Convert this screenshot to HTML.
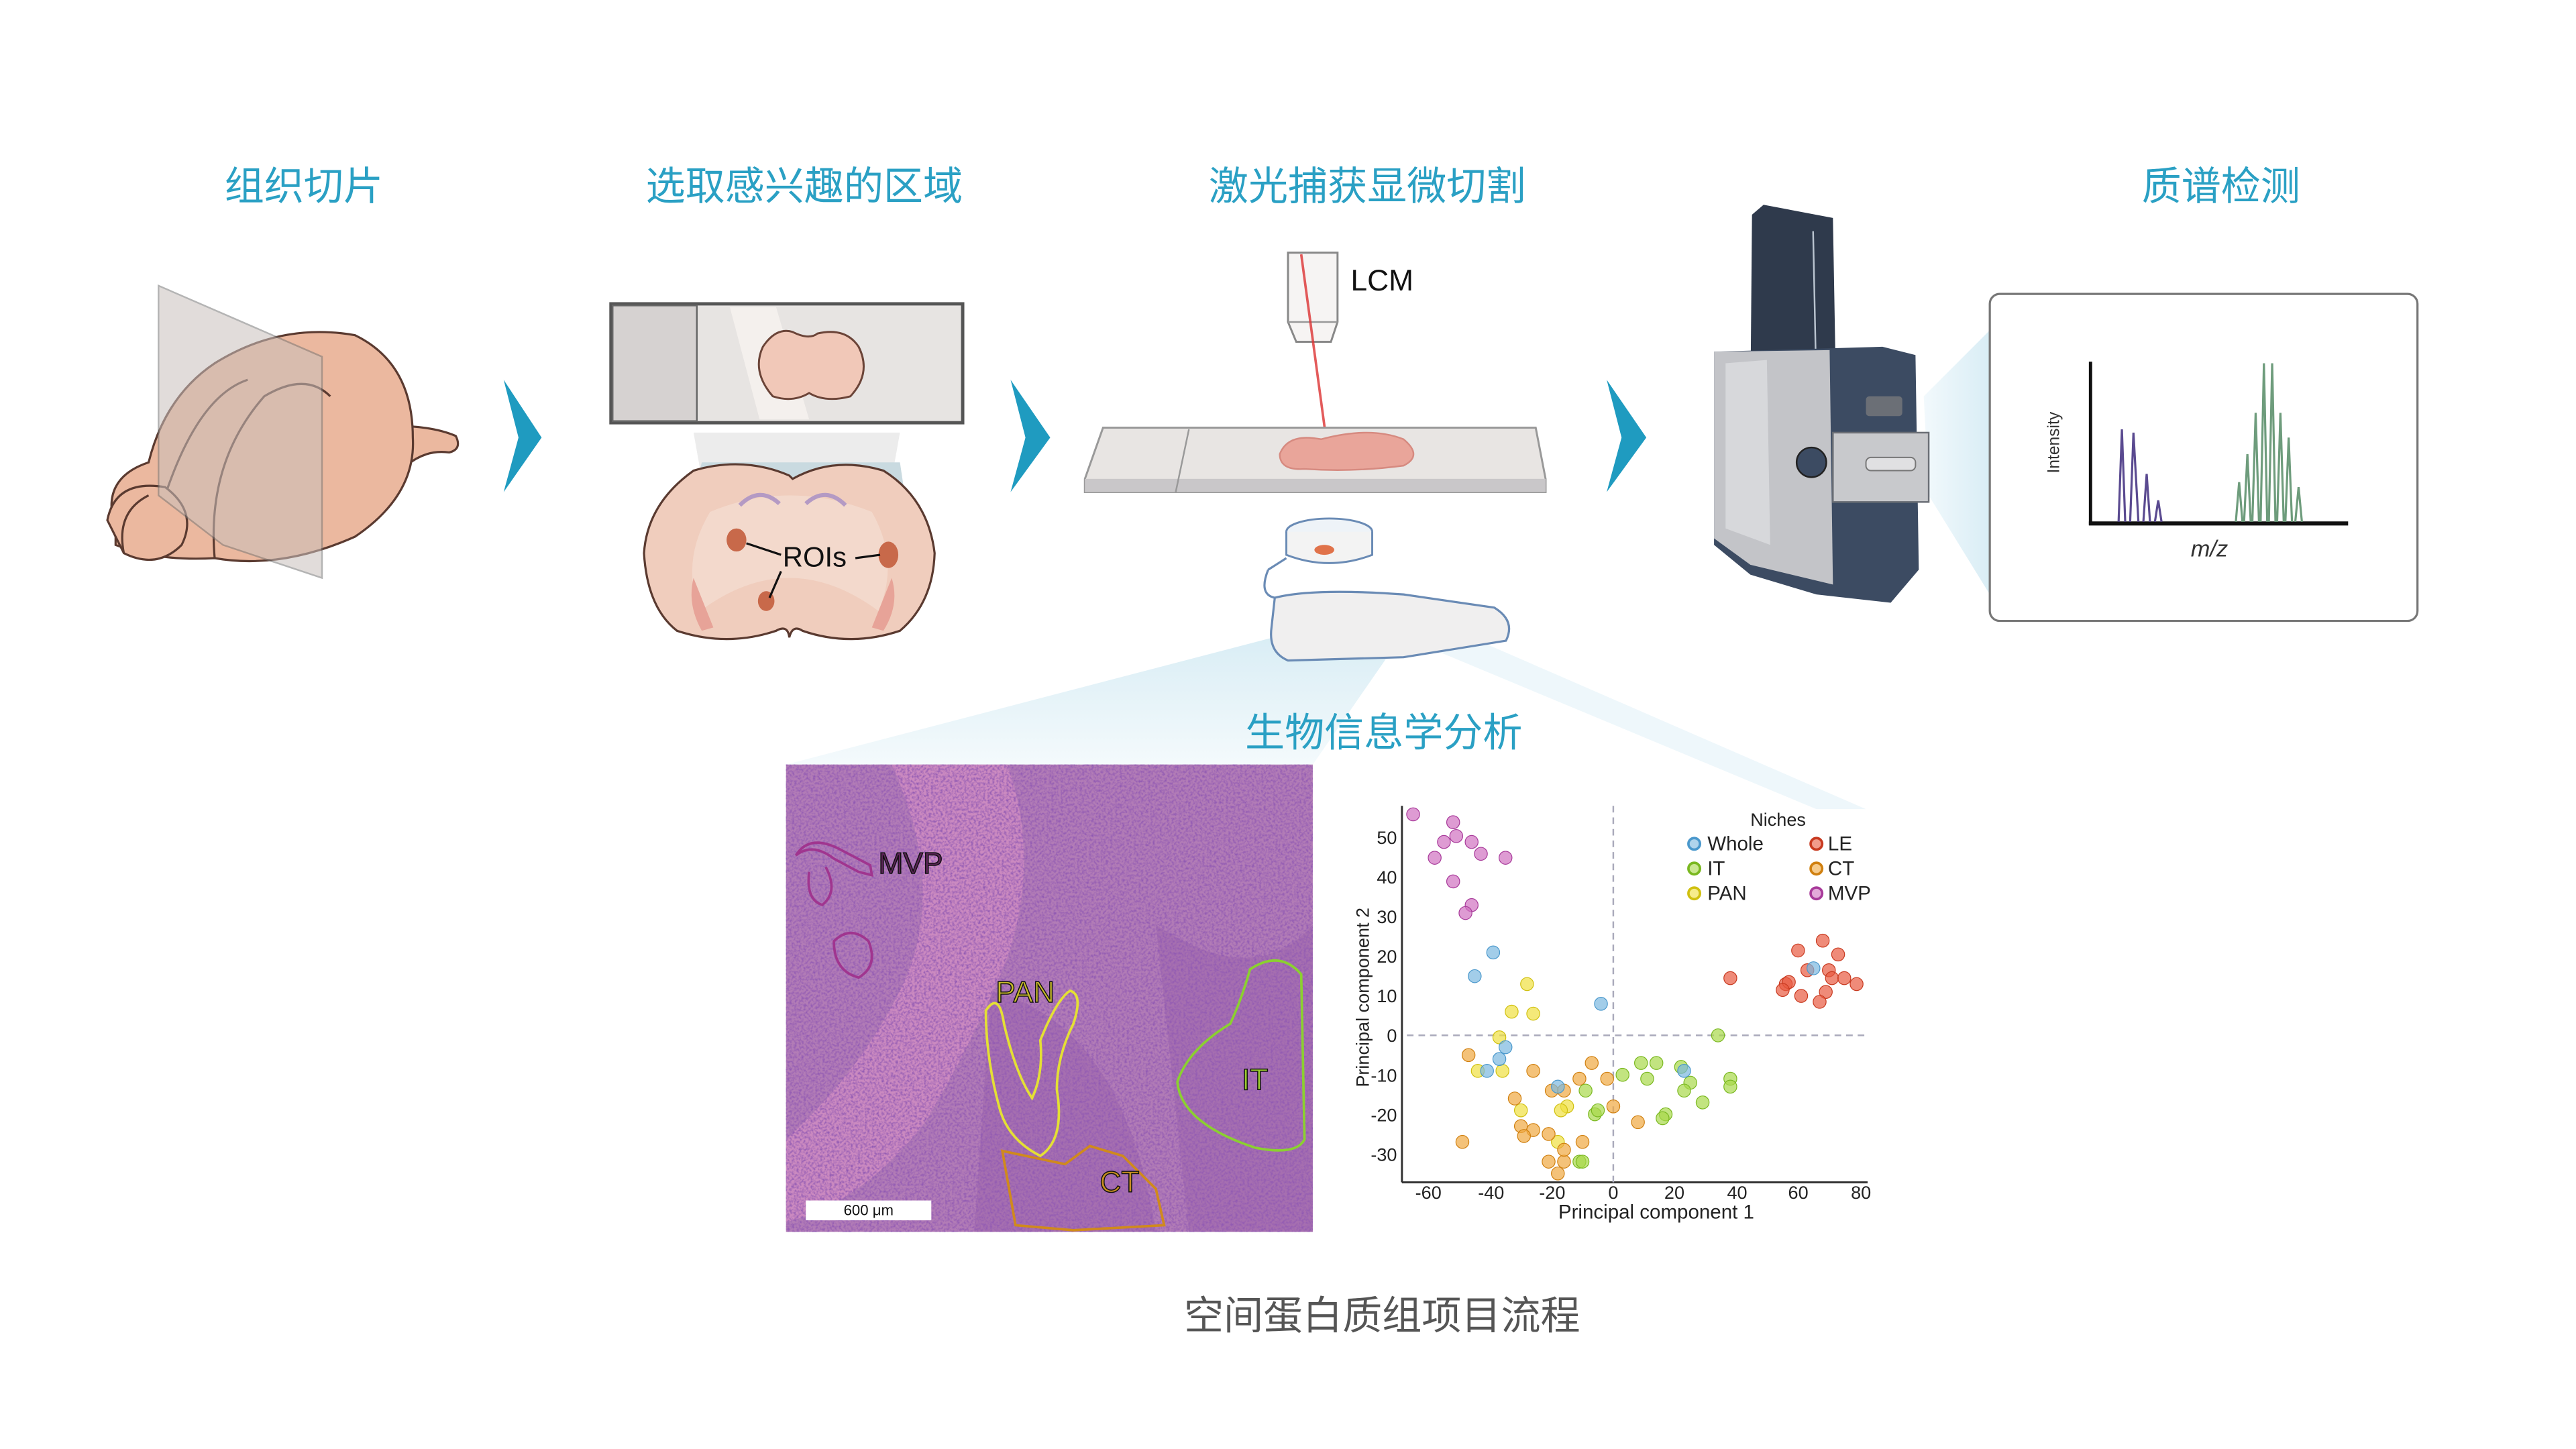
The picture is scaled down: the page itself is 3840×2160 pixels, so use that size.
<!DOCTYPE html>
<html><head><meta charset="utf-8">
<style>
html,body{margin:0;padding:0;background:#fff;}
svg{display:block;}
.t{font-family:"Liberation Sans","Noto Sans CJK SC",sans-serif;}
</style></head>
<body>
<svg width="3840" height="2160" viewBox="0 0 1560 877.5" xmlns="http://www.w3.org/2000/svg">
<defs>
<filter id="nz" x="0" y="0" width="1" height="1">
<feTurbulence type="fractalNoise" baseFrequency="0.7" numOctaves="2" seed="5"/>
<feColorMatrix type="matrix" values="0 0 0 0 0.28  0 0 0 0 0.1  0 0 0 0 0.45  0 0 0 -2.2 1.35"/>
</filter>
<linearGradient id="fan" x1="0" y1="0" x2="0" y2="1"><stop offset="0" stop-color="#d9edf5"/><stop offset="1" stop-color="#f4fafc"/></linearGradient>
<linearGradient id="fan2" x1="1" y1="0" x2="0" y2="0"><stop offset="0" stop-color="#d9edf5"/><stop offset="1" stop-color="#f2f9fc"/></linearGradient>
</defs>

<!-- fans -->
<path d="M775,385 L476,463 L795,463 L840,398 Z" fill="url(#fan)"/>
<path d="M860,390 L1100,490 L1130,490 L900,390Z" fill="#eef7fb"/>
<path d="M1165,240 L1205,200 L1205,360 L1168,300 Z" fill="url(#fan2)"/>

<!-- Titles -->
<g class="t" fill="#2aa0c4" font-size="24" text-anchor="middle">
<text x="184" y="121">组织切片</text>
<text x="487" y="121">选取感兴趣的区域</text>
<text x="828" y="121">激光捕获显微切割</text>
<text x="1345" y="121">质谱检测</text>
<text x="838" y="452">生物信息学分析</text>
</g>
<text class="t" x="837" y="805" font-size="24" fill="#555" text-anchor="middle">空间蛋白质组项目流程</text>

<!-- chevrons -->
<g fill="#1f9bc0">
<path d="M305,230 L328,265 L305,298 L314,265 Z"/>
<path d="M612,230 L636,265 L612,298 L621,265 Z"/>
<path d="M973,230 L997,265 L973,298 L982,265 Z"/>
</g>

<!-- Brain -->
<g stroke="#5a3a30" stroke-width="1.3">
<path d="M240,258 Q262,258 276,264 Q280,272 272,274 Q258,272 246,282 Z" fill="#ebb89f"/>
<path d="M70,320 Q60,290 90,280 Q100,240 130,220 Q170,195 215,203 Q250,220 250,265 Q252,300 215,325 Q170,345 130,338 Q95,340 70,330 Z" fill="#ebb89f"/>
<path d="M130,338 Q125,280 160,240 Q185,225 200,240" fill="none"/>
<path d="M100,300 Q120,240 150,230" fill="none"/>
<path d="M65,315 Q70,290 100,295 Q120,310 110,330 Q95,345 75,335 Z" fill="#ebb89f"/>
<path d="M75,335 Q70,310 90,300" fill="none"/>
</g>
<path d="M96,173 L195,216 L195,350 L135,330 L96,300 Z" fill="#c9c0bc" opacity="0.55" stroke="#777" stroke-width="1"/>

<!-- slide 2 -->
<rect x="370" y="184" width="213" height="72" fill="#e7e4e2" stroke="#555" stroke-width="2"/>
<rect x="371" y="185" width="51" height="70" fill="#d6d2d1" stroke="#666" stroke-width="1"/>
<path d="M442,186 L470,186 L490,254 L460,254 Z" fill="#f7f3f0" opacity="0.8"/>
<path d="M480,201 Q470,198 462,210 Q455,225 468,240 Q480,244 490,238 Q500,244 515,240 Q528,226 520,210 Q512,198 495,202 Q490,206 480,201 Z" fill="#f1c8b8" stroke="#6b4438" stroke-width="1.2"/>
<path d="M420,262 L545,262 L540,290 L425,290 Z" fill="#ececec"/>
<path d="M425,280 L545,280 L548,300 L420,300Z" fill="#c9dae0"/>
<path d="M478,288 Q450,276 420,285 Q392,305 390,335 Q392,368 410,382 Q440,392 470,382 Q477,378 478,386 Q480,378 486,382 Q515,392 545,382 Q565,365 566,335 Q562,302 535,285 Q505,276 480,290 Z" fill="#f0cdbd" stroke="#5a3a30" stroke-width="1.3"/>
<path d="M430,310 Q478,290 528,310 Q545,340 532,370 Q478,330 424,370 Q412,340 430,310Z" fill="#f3d9cc"/>
<path d="M448,306 Q460,294 472,305 M488,305 Q500,294 512,306" stroke="#b49ac4" stroke-width="2.5" fill="none"/>
<ellipse cx="446" cy="327" rx="6" ry="7" fill="#c8694a"/>
<ellipse cx="538" cy="336" rx="6" ry="8" fill="#c8694a"/>
<ellipse cx="464" cy="364" rx="5" ry="6" fill="#c8694a"/>
<path d="M420,350 Q428,370 432,380 L425,382 Q416,366 420,350Z M540,350 Q532,370 528,380 L535,382 Q545,366 540,350Z" fill="#e7a398"/>
<text class="t" x="474" y="343" font-size="17" fill="#111">ROIs</text>
<path d="M452,329 L473,336 M518,338 L533,336 M473,346 L466,362" stroke="#111" stroke-width="1.3"/>

<!-- LCM -->
<path d="M780,153 L810,153 L810,195 L806,207 L785,207 L780,195 Z" fill="#f6f4f3" stroke="#888" stroke-width="1.2"/>
<line x1="780" y1="195" x2="810" y2="195" stroke="#999"/>
<line x1="788" y1="154" x2="803" y2="265" stroke="#d33" stroke-width="1.5" opacity="0.8"/>
<text class="t" x="818" y="176" font-size="18" fill="#111">LCM</text>
<path d="M668,259 L930,259 L936,290 L936,298 L657,298 L657,290 Z" fill="#e8e5e3" stroke="#999" stroke-width="1.2"/>
<rect x="657" y="290" width="279" height="8" fill="#c9c7c9"/>
<line x1="720" y1="260" x2="712" y2="298" stroke="#999"/>
<path d="M775,275 Q780,262 800,266 Q830,258 850,266 Q862,276 850,282 Q820,286 790,284 Q775,285 775,275Z" fill="#e9a59a" stroke="#d68a80"/>
<ellipse cx="805" cy="322" rx="26" ry="8" fill="#eef3f8" stroke="#6a8bb5" stroke-width="1.2"/>
<path d="M779,322 L779,336 Q805,346 831,336 L831,322" fill="#f3f3f3" stroke="#6a8bb5" stroke-width="1.2"/>
<ellipse cx="802" cy="333" rx="6" ry="3" fill="#e0724a"/>
<path d="M772,362 Q795,356 850,360 L905,368 Q918,376 912,388 L850,398 L780,400 Q768,395 770,380 Z" fill="#f0efef" stroke="#6a8bb5" stroke-width="1.3"/>
<path d="M768,345 Q762,360 772,362 M768,345 L779,338" fill="none" stroke="#6a8bb5" stroke-width="1.3"/>

<!-- Mass spec -->
<path d="M1061,130 L1068,124 L1110,132 L1112,245 L1060,245 Z" fill="#2f3a4c"/>
<line x1="1098" y1="140" x2="1100" y2="236" stroke="#b9c3cf" stroke-width="1"/>
<path d="M1038,213 L1140,210 L1160,215 L1162,345 L1145,365 L1100,360 L1060,348 L1038,330 Z" fill="#3c4b62"/>
<path d="M1038,213 L1108,212 L1110,354 L1060,342 L1038,326 Z" fill="#c3c4c8"/>
<path d="M1045,220 L1070,218 L1072,330 L1045,320 Z" fill="#d7d8db"/>
<rect x="1110" y="262" width="58" height="42" fill="#c8c9cc" stroke="#6a6e75" stroke-width="1"/>
<rect x="1130" y="240" width="22" height="12" rx="2" fill="#6b6f76"/>
<circle cx="1097" cy="280" r="9" fill="#3c4b62" stroke="#222"/>
<rect x="1130" y="277" width="30" height="8" rx="3" fill="#e0e0e2" stroke="#777" stroke-width="0.8"/>

<!-- spectrum box -->
<rect x="1205" y="178" width="259" height="198" rx="6" fill="#fff" stroke="#777" stroke-width="1.3"/>
<line x1="1266" y1="219" x2="1266" y2="318" stroke="#111" stroke-width="2"/>
<line x1="1265" y1="317" x2="1422" y2="317" stroke="#111" stroke-width="2.5"/>
<text class="t" x="1247" y="268" font-size="10" fill="#333" text-anchor="middle" transform="rotate(-90 1247 268)">Intensity</text>
<text class="t" x="1338" y="337" font-size="14" font-style="italic" fill="#333" text-anchor="middle">m/z</text>
<g fill="none" stroke="#5a4a90" stroke-width="1.3">
<path d="M1283,316 L1285,260 L1287,316 M1290,316 L1292,262 L1295,316 M1298,316 L1300,287 L1302,316 M1305,316 L1307,303 L1309,316"/>
</g>
<g fill="none" stroke="#6e9c7c" stroke-width="1.3">
<path d="M1354,316 L1356,292 L1358,316 M1359,316 L1361,275 L1363,316 M1364,316 L1366,250 L1368,316 M1369,316 L1371,220 L1373,316 M1374,316 L1376,220 L1378,316 M1379,316 L1381,250 L1383,316 M1384,316 L1386,265 L1388,316 M1390,316 L1392,295 L1394,316"/>
</g>

<!-- H&E image -->
<rect x="476" y="463" width="319" height="283" fill="#b27cb6"/>
<path d="M540,463 L610,463 Q630,520 610,580 Q590,630 560,680 Q520,730 476,740 L476,690 Q520,650 545,600 Q575,540 540,463Z" fill="#d690c4" opacity="0.7"/>
<path d="M600,600 Q680,620 700,746 L590,746Z M700,560 Q760,600 795,560 L795,746 L720,746 Z" fill="#8e5aa6" opacity="0.35"/>
<rect x="476" y="463" width="319" height="283" filter="url(#nz)"/>
<g fill="none" stroke-width="1.5">
<path d="M482,518 Q492,510 505,520 L520,528 L528,530 L527,524 L508,514 Q490,505 482,518Z M490,528 Q488,545 498,548 Q508,540 500,525" stroke="#a0358f"/>
<path d="M505,570 Q515,560 526,570 Q532,585 520,592 Q505,588 505,570Z" stroke="#a0358f"/>
<path d="M597,612 Q605,600 608,620 Q615,650 625,665 Q632,650 630,630 Q640,605 648,600 Q656,602 650,620 Q640,640 640,660 Q645,690 630,700 Q610,690 605,670 Q597,640 597,612Z" stroke="#e4e034"/>
<path d="M607,697 L645,705 L660,694 L680,700 L700,720 L705,742 L650,745 L615,742 Z" stroke="#d08a1c"/>
<path d="M757,587 Q775,575 788,590 L790,690 Q785,700 760,695 Q715,680 713,655 Q720,635 745,620 Q752,605 757,587Z" stroke="#8bd030"/>
</g>
<g class="t" font-size="18" stroke="#111" stroke-width="0.6">
<text x="532" y="529" fill="#5a2356">MVP</text>
<text x="603" y="607" fill="#c9bb2a">PAN</text>
<text x="666" y="722" fill="#c98f20">CT</text>
<text x="752" y="660" fill="#9bcc2e">IT</text>
</g>
<rect x="488" y="727" width="76" height="12" fill="#fff"/>
<text class="t" x="526" y="736" font-size="9" fill="#111" text-anchor="middle">600 μm</text>

<!-- PCA plot -->
<line x1="849" y1="488" x2="849" y2="716" stroke="#333" stroke-width="1.2"/>
<line x1="849" y1="716" x2="1131" y2="716" stroke="#333" stroke-width="1.2"/>
<line x1="977" y1="488" x2="977" y2="716" stroke="#aab" stroke-width="1" stroke-dasharray="4,3"/>
<line x1="852" y1="627" x2="1130" y2="627" stroke="#aab" stroke-width="1" stroke-dasharray="4,3"/>
<g class="t" font-size="11" fill="#222" text-anchor="end">
<text x="846" y="511">50</text><text x="846" y="535">40</text><text x="846" y="559">30</text><text x="846" y="583">20</text><text x="846" y="607">10</text><text x="846" y="631">0</text><text x="846" y="655">-10</text><text x="846" y="679">-20</text><text x="846" y="703">-30</text>
</g>
<g class="t" font-size="11" fill="#222" text-anchor="middle">
<text x="865" y="726">-60</text><text x="903" y="726">-40</text><text x="940" y="726">-20</text><text x="977" y="726">0</text><text x="1014" y="726">20</text><text x="1052" y="726">40</text><text x="1089" y="726">60</text><text x="1127" y="726">80</text>
<text x="1003" y="738" font-size="12">Principal component 1</text>
</g>
<text class="t" x="829" y="604" font-size="11" fill="#222" text-anchor="middle" transform="rotate(-90 829 604)">Principal component 2</text>
<g class="t" font-size="12" fill="#222">
<text x="1060" y="500" font-size="11">Niches</text>
<text x="1034" y="515">Whole</text><text x="1107" y="515">LE</text>
<text x="1034" y="530">IT</text><text x="1107" y="530">CT</text>
<text x="1034" y="545">PAN</text><text x="1107" y="545">MVP</text>
</g>
<g stroke-width="1.5" fill-opacity="0.6">
<circle cx="1026" cy="511" r="3.5" fill="#7ab8e0" stroke="#4a98cc"/>
<circle cx="1026" cy="526" r="3.5" fill="#a8d84a" stroke="#7ab820"/>
<circle cx="1026" cy="541" r="3.5" fill="#f0e040" stroke="#d0c010"/>
<circle cx="1100" cy="511" r="3.5" fill="#e85a40" stroke="#c83a20"/>
<circle cx="1100" cy="526" r="3.5" fill="#f0a840" stroke="#d08010"/>
<circle cx="1100" cy="541" r="3.5" fill="#d070c0" stroke="#a83a9a"/>
</g>
<g transform="translate(977,627) scale(1.865,-2.39)" stroke-width="1.2">
<g fill="#d070c0" fill-opacity="0.7" stroke="#a83a9a">
<ellipse vector-effect="non-scaling-stroke" cx="-65" cy="56" rx="2.1" ry="1.65"/>
<ellipse vector-effect="non-scaling-stroke" cx="-52" cy="54" rx="2.1" ry="1.65"/>
<ellipse vector-effect="non-scaling-stroke" cx="-55" cy="49" rx="2.1" ry="1.65"/>
<ellipse vector-effect="non-scaling-stroke" cx="-51" cy="50.5" rx="2.1" ry="1.65"/>
<ellipse vector-effect="non-scaling-stroke" cx="-46" cy="49" rx="2.1" ry="1.65"/>
<ellipse vector-effect="non-scaling-stroke" cx="-43" cy="46" rx="2.1" ry="1.65"/>
<ellipse vector-effect="non-scaling-stroke" cx="-58" cy="45" rx="2.1" ry="1.65"/>
<ellipse vector-effect="non-scaling-stroke" cx="-35" cy="45" rx="2.1" ry="1.65"/>
<ellipse vector-effect="non-scaling-stroke" cx="-52" cy="39" rx="2.1" ry="1.65"/>
<ellipse vector-effect="non-scaling-stroke" cx="-46" cy="33" rx="2.1" ry="1.65"/>
<ellipse vector-effect="non-scaling-stroke" cx="-48" cy="31" rx="2.1" ry="1.65"/>
</g>
<g fill="#f0e040" fill-opacity="0.7" stroke="#d0c010">
<ellipse vector-effect="non-scaling-stroke" cx="-28" cy="13" rx="2.1" ry="1.65"/>
<ellipse vector-effect="non-scaling-stroke" cx="-33" cy="6" rx="2.1" ry="1.65"/>
<ellipse vector-effect="non-scaling-stroke" cx="-26" cy="5.5" rx="2.1" ry="1.65"/>
<ellipse vector-effect="non-scaling-stroke" cx="-37" cy="-0.5" rx="2.1" ry="1.65"/>
<ellipse vector-effect="non-scaling-stroke" cx="-44" cy="-9" rx="2.1" ry="1.65"/>
<ellipse vector-effect="non-scaling-stroke" cx="-36" cy="-9" rx="2.1" ry="1.65"/>
<ellipse vector-effect="non-scaling-stroke" cx="-30" cy="-19" rx="2.1" ry="1.65"/>
<ellipse vector-effect="non-scaling-stroke" cx="-15" cy="-18" rx="2.1" ry="1.65"/>
<ellipse vector-effect="non-scaling-stroke" cx="-18" cy="-27" rx="2.1" ry="1.65"/>
<ellipse vector-effect="non-scaling-stroke" cx="-17" cy="-19" rx="2.1" ry="1.65"/>
</g>
<g fill="#f0a840" fill-opacity="0.7" stroke="#d08010">
<ellipse vector-effect="non-scaling-stroke" cx="-47" cy="-5" rx="2.1" ry="1.65"/>
<ellipse vector-effect="non-scaling-stroke" cx="-26" cy="-9" rx="2.1" ry="1.65"/>
<ellipse vector-effect="non-scaling-stroke" cx="-7" cy="-7" rx="2.1" ry="1.65"/>
<ellipse vector-effect="non-scaling-stroke" cx="-11" cy="-11" rx="2.1" ry="1.65"/>
<ellipse vector-effect="non-scaling-stroke" cx="-2" cy="-11" rx="2.1" ry="1.65"/>
<ellipse vector-effect="non-scaling-stroke" cx="-32" cy="-16" rx="2.1" ry="1.65"/>
<ellipse vector-effect="non-scaling-stroke" cx="-20" cy="-14" rx="2.1" ry="1.65"/>
<ellipse vector-effect="non-scaling-stroke" cx="-16" cy="-14" rx="2.1" ry="1.65"/>
<ellipse vector-effect="non-scaling-stroke" cx="0" cy="-18" rx="2.1" ry="1.65"/>
<ellipse vector-effect="non-scaling-stroke" cx="8" cy="-22" rx="2.1" ry="1.65"/>
<ellipse vector-effect="non-scaling-stroke" cx="-30" cy="-23" rx="2.1" ry="1.65"/>
<ellipse vector-effect="non-scaling-stroke" cx="-26" cy="-24" rx="2.1" ry="1.65"/>
<ellipse vector-effect="non-scaling-stroke" cx="-29" cy="-25.5" rx="2.1" ry="1.65"/>
<ellipse vector-effect="non-scaling-stroke" cx="-21" cy="-25" rx="2.1" ry="1.65"/>
<ellipse vector-effect="non-scaling-stroke" cx="-10" cy="-27" rx="2.1" ry="1.65"/>
<ellipse vector-effect="non-scaling-stroke" cx="-49" cy="-27" rx="2.1" ry="1.65"/>
<ellipse vector-effect="non-scaling-stroke" cx="-21" cy="-32" rx="2.1" ry="1.65"/>
<ellipse vector-effect="non-scaling-stroke" cx="-16" cy="-32" rx="2.1" ry="1.65"/>
<ellipse vector-effect="non-scaling-stroke" cx="-18" cy="-35" rx="2.1" ry="1.65"/>
<ellipse vector-effect="non-scaling-stroke" cx="-16" cy="-29" rx="2.1" ry="1.65"/>
</g>
<g fill="#a8d84a" fill-opacity="0.7" stroke="#7ab820">
<ellipse vector-effect="non-scaling-stroke" cx="34" cy="0" rx="2.1" ry="1.65"/>
<ellipse vector-effect="non-scaling-stroke" cx="3" cy="-10" rx="2.1" ry="1.65"/>
<ellipse vector-effect="non-scaling-stroke" cx="9" cy="-7" rx="2.1" ry="1.65"/>
<ellipse vector-effect="non-scaling-stroke" cx="14" cy="-7" rx="2.1" ry="1.65"/>
<ellipse vector-effect="non-scaling-stroke" cx="11" cy="-11" rx="2.1" ry="1.65"/>
<ellipse vector-effect="non-scaling-stroke" cx="22" cy="-8" rx="2.1" ry="1.65"/>
<ellipse vector-effect="non-scaling-stroke" cx="25" cy="-12" rx="2.1" ry="1.65"/>
<ellipse vector-effect="non-scaling-stroke" cx="23" cy="-14" rx="2.1" ry="1.65"/>
<ellipse vector-effect="non-scaling-stroke" cx="38" cy="-11" rx="2.1" ry="1.65"/>
<ellipse vector-effect="non-scaling-stroke" cx="38" cy="-13" rx="2.1" ry="1.65"/>
<ellipse vector-effect="non-scaling-stroke" cx="29" cy="-17" rx="2.1" ry="1.65"/>
<ellipse vector-effect="non-scaling-stroke" cx="17" cy="-20" rx="2.1" ry="1.65"/>
<ellipse vector-effect="non-scaling-stroke" cx="16" cy="-21" rx="2.1" ry="1.65"/>
<ellipse vector-effect="non-scaling-stroke" cx="-9" cy="-14" rx="2.1" ry="1.65"/>
<ellipse vector-effect="non-scaling-stroke" cx="-6" cy="-20" rx="2.1" ry="1.65"/>
<ellipse vector-effect="non-scaling-stroke" cx="-5" cy="-19" rx="2.1" ry="1.65"/>
<ellipse vector-effect="non-scaling-stroke" cx="-11" cy="-32" rx="2.1" ry="1.65"/>
<ellipse vector-effect="non-scaling-stroke" cx="-10" cy="-32" rx="2.1" ry="1.65"/>
</g>
<g fill="#e85a40" fill-opacity="0.7" stroke="#c83a20">
<ellipse vector-effect="non-scaling-stroke" cx="68" cy="24" rx="2.1" ry="1.65"/>
<ellipse vector-effect="non-scaling-stroke" cx="60" cy="21.5" rx="2.1" ry="1.65"/>
<ellipse vector-effect="non-scaling-stroke" cx="73" cy="20.5" rx="2.1" ry="1.65"/>
<ellipse vector-effect="non-scaling-stroke" cx="38" cy="14.5" rx="2.1" ry="1.65"/>
<ellipse vector-effect="non-scaling-stroke" cx="56" cy="13" rx="2.1" ry="1.65"/>
<ellipse vector-effect="non-scaling-stroke" cx="57" cy="13.5" rx="2.1" ry="1.65"/>
<ellipse vector-effect="non-scaling-stroke" cx="55" cy="11.5" rx="2.1" ry="1.65"/>
<ellipse vector-effect="non-scaling-stroke" cx="70" cy="16.5" rx="2.1" ry="1.65"/>
<ellipse vector-effect="non-scaling-stroke" cx="71" cy="14.5" rx="2.1" ry="1.65"/>
<ellipse vector-effect="non-scaling-stroke" cx="75" cy="14.5" rx="2.1" ry="1.65"/>
<ellipse vector-effect="non-scaling-stroke" cx="79" cy="13" rx="2.1" ry="1.65"/>
<ellipse vector-effect="non-scaling-stroke" cx="69" cy="11" rx="2.1" ry="1.65"/>
<ellipse vector-effect="non-scaling-stroke" cx="61" cy="10" rx="2.1" ry="1.65"/>
<ellipse vector-effect="non-scaling-stroke" cx="67" cy="8.5" rx="2.1" ry="1.65"/>
<ellipse vector-effect="non-scaling-stroke" cx="63" cy="16.5" rx="2.1" ry="1.65"/>
</g>
<g fill="#7ab8e0" fill-opacity="0.7" stroke="#4a98cc">
<ellipse vector-effect="non-scaling-stroke" cx="-39" cy="21" rx="2.1" ry="1.65"/>
<ellipse vector-effect="non-scaling-stroke" cx="-45" cy="15" rx="2.1" ry="1.65"/>
<ellipse vector-effect="non-scaling-stroke" cx="-4" cy="8" rx="2.1" ry="1.65"/>
<ellipse vector-effect="non-scaling-stroke" cx="-35" cy="-3" rx="2.1" ry="1.65"/>
<ellipse vector-effect="non-scaling-stroke" cx="-37" cy="-6" rx="2.1" ry="1.65"/>
<ellipse vector-effect="non-scaling-stroke" cx="-41" cy="-9" rx="2.1" ry="1.65"/>
<ellipse vector-effect="non-scaling-stroke" cx="-18" cy="-13" rx="2.1" ry="1.65"/>
<ellipse vector-effect="non-scaling-stroke" cx="23" cy="-9" rx="2.1" ry="1.65"/>
<ellipse vector-effect="non-scaling-stroke" cx="65" cy="17" rx="2.1" ry="1.65"/>
</g>
</g>
</svg>
</body></html>
